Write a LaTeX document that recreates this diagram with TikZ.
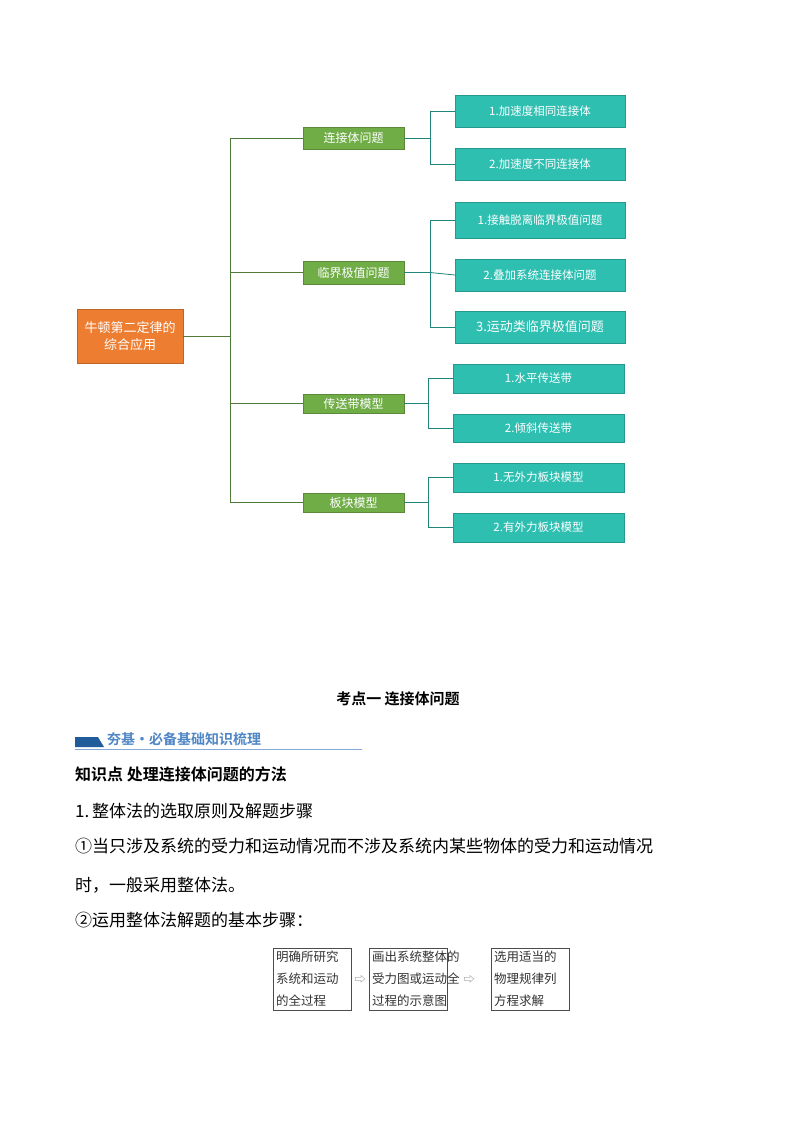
\documentclass[tikz,border=0pt]{standalone}
\usepackage{fontspec}
\setmainfont{Noto Sans CJK SC}
\newfontfamily\cjkb{Noto Sans CJK SC Bold}
\usetikzlibrary{positioning}
\definecolor{org}{HTML}{ED7D31}
\definecolor{grn}{HTML}{70AD47}
\definecolor{tea}{HTML}{2EBFB1}
\definecolor{lnk}{HTML}{4E7A3A}
\definecolor{bnr}{HTML}{1F5C99}
\definecolor{btx}{HTML}{4F86C6}
\tikzset{
 rootbox/.style={fill=org,draw=org!80!black,text=white,font=\fontsize{13}{17}\selectfont,align=center,inner sep=0pt},
 midbox/.style={fill=grn,draw=grn!80!black,text=white,font=\fontsize{12}{14}\selectfont,inner sep=0pt},
 leafbox/.style={fill=tea,draw=tea!80!black,text=white,font=\fontsize{11.5}{14}\selectfont,inner sep=0pt},
 link/.style={draw=lnk,line width=0.8pt},
 tlink/.style={draw=tea!70!black,line width=0.8pt},
 body/.style={anchor=west,inner sep=0pt,font=\fontsize{17}{20}\selectfont},
 stepbox/.style={draw=black!70,line width=0.6pt,anchor=north west,minimum width=78pt,minimum height=62pt,inner sep=0pt},
 steptxt/.style={anchor=north west,align=left,inner sep=0pt,font=\fontsize{12.5}{22}\selectfont,text=black!80}
}
\begin{document}
\begin{tikzpicture}[x=1pt,y=-1pt]
\useasboundingbox (0,0) rectangle (794,1123);
\fill[white] (0,0) rectangle (794,1123);
% root
\node[rootbox,minimum width=106pt,minimum height=54pt] (root) at (130,336) {牛顿第二定律的\\综合应用};
% mid
\node[midbox,minimum width=101pt,minimum height=22pt] (m1) at (353.5,138) {连接体问题};
\node[midbox,minimum width=101pt,minimum height=23pt] (m2) at (353.5,272.5) {临界极值问题};
\node[midbox,minimum width=101pt,minimum height=19pt] (m3) at (353.5,403.5) {传送带模型};
\node[midbox,minimum width=101pt,minimum height=19pt] (m4) at (353.5,502.5) {板块模型};
% leaves
\node[leafbox,minimum width=170pt,minimum height=32pt] (l1) at (540,111) {1.加速度相同连接体};
\node[leafbox,minimum width=170pt,minimum height=32pt] (l2) at (540,164) {2.加速度不同连接体};
\node[leafbox,minimum width=170pt,minimum height=36pt] (l3) at (540,220) {1.接触脱离临界极值问题};
\node[leafbox,minimum width=170pt,minimum height=32pt] (l4) at (540,275) {2.叠加系统连接体问题};
\node[leafbox,minimum width=170pt,minimum height=32pt,font=\fontsize{13}{15}\selectfont] (l5) at (540,327) {3.运动类临界极值问题};
\node[leafbox,minimum width=171pt,minimum height=29pt] (l6) at (538.5,378.5) {1.水平传送带};
\node[leafbox,minimum width=171pt,minimum height=28pt] (l7) at (538.5,428) {2.倾斜传送带};
\node[leafbox,minimum width=171pt,minimum height=29pt] (l8) at (538.5,477.5) {1.无外力板块模型};
\node[leafbox,minimum width=171pt,minimum height=29pt] (l9) at (538.5,527.5) {2.有外力板块模型};
% links root
\coordinate (tr) at (230,336);
\draw[link] (root.east) -- (tr);
\foreach \m in {m1,m2,m3,m4} \draw[link] (tr) |- (\m.west);
% links mid->leaf
\coordinate (c1) at (430,138);
\draw[tlink] (m1.east) -- (c1);
\draw[tlink] (c1) |- (l1.west); \draw[tlink] (c1) |- (l2.west);
\coordinate (c2) at (430,272.5);
\draw[tlink] (m2.east) -- (c2);
\draw[tlink] (c2) |- (l3.west); \draw[tlink] (c2) -- (l4.west); \draw[tlink] (c2) |- (l5.west);
\coordinate (c3) at (428,403.5);
\draw[tlink] (m3.east) -- (c3);
\draw[tlink] (c3) |- (l6.west); \draw[tlink] (c3) |- (l7.west);
\coordinate (c4) at (428,502.5);
\draw[tlink] (m4.east) -- (c4);
\draw[tlink] (c4) |- (l8.west); \draw[tlink] (c4) |- (l9.west);
% lower section
\node[inner sep=0pt,font=\cjkb\fontsize{15}{18}\selectfont] (title) at (398,699) {考点一\ 连接体问题};
\fill[bnr] (75,737) -- (98,737) -- (104,747) -- (75,747) -- cycle;
\node[anchor=west,inner sep=0pt,text=btx,font=\cjkb\fontsize{14}{16}\selectfont] (ban) at (107,739) {夯基·必备基础知识梳理};
\draw[btx!70,line width=0.6pt] (75,749) -- (362,749);
\node[body,font=\cjkb\fontsize{16}{20}\selectfont] (kp) at (75,774) {知识点\ 处理连接体问题的方法};
\node[body] (p1) at (75,811) {1.\,整体法的选取原则及解题步骤};
\node[body] (p2) at (75,846) {①当只涉及系统的受力和运动情况而不涉及系统内某些物体的受力和运动情况};
\node[body] (p3) at (75,885) {时，一般采用整体法。};
\node[body] (p4) at (75,920) {②运用整体法解题的基本步骤：};
\node[stepbox] (s1) at (273,948) {};
\node[stepbox] (s2) at (369,948) {};
\node[stepbox] (s3) at (491,948) {};
\node[steptxt] at (276,951) {明确所研究\\系统和运动\\的全过程};
\node[steptxt] at (372,951) {画出系统整体的\\受力图或运动全\\过程的示意图};
\node[steptxt] at (494,951) {选用适当的\\物理规律列\\方程求解};
\node[inner sep=0pt,text=black!50,font=\fontsize{11}{12}\selectfont] at (360,980) {⇨};
\node[inner sep=0pt,text=black!50,font=\fontsize{11}{12}\selectfont] at (469,980) {⇨};
\end{tikzpicture}
\end{document}
